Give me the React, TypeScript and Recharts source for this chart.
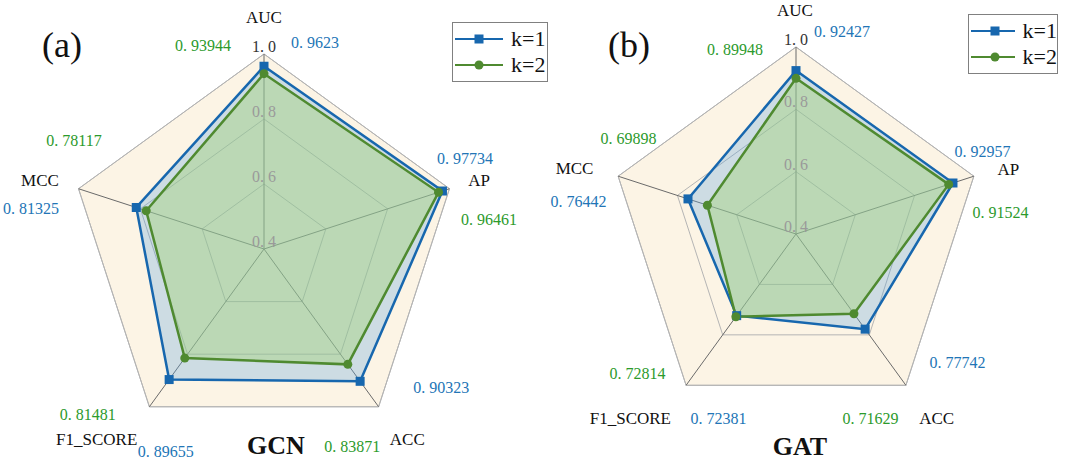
import {
  RadarChart,
  Radar,
  PolarGrid,
  PolarAngleAxis,
  PolarRadiusAxis,
  Legend,
} from "recharts";

const metrics = ["AUC", "AP", "ACC", "F1_SCORE", "MCC"];
const seriesNames = ["k=1", "k=2"];

const gcnK1 = [0.9623, 0.97734, 0.90323, 0.89655, 0.81325];
const gcnK2 = [0.93944, 0.96461, 0.83871, 0.81481, 0.78117];
const gatK1 = [0.92427, 0.92957, 0.77742, 0.72381, 0.76442];
const gatK2 = [0.89948, 0.91524, 0.71629, 0.72814, 0.69898];

const radiusDomain = [0.4, 1.0];
const radiusTicks = [0.4, 0.6, 0.8, 1.0];

const BLUE = "#1767ae";
const GREEN = "#4f8a30";
const BLUE_TEXT = "#2275b6";
const GREEN_TEXT = "#2c9a2c";
const SERIF = "'Liberation Serif', 'Times New Roman', serif";

type Offsets = Record<string, { name: number[]; k1: number[]; k2: number[] }>;

// label offsets from each axis vertex (text centres)
const gcnOffsets: Offsets = {
  AUC: { name: [0, -29], k1: [51, -4], k2: [-61, -1] },
  AP: { name: [22, -6], k1: [8, -28], k2: [32, 33] },
  ACC: { name: [24, 26], k1: [58, -26], k2: [-31, 33] },
  F1_SCORE: { name: [-48, 26], k1: [21, 38], k2: [-57, 1] },
  MCC: { name: [-31, -6], k1: [-40, 22], k2: [3, -46] },
};

const gatOffsets: Offsets = {
  AUC: { name: [-1, -29], k1: [46, -8], k2: [-61, 10] },
  AP: { name: [27, -4], k1: [1, -23], k2: [19, 38] },
  ACC: { name: [26, 27], k1: [47, -30], k2: [-40, 26] },
  F1_SCORE: { name: [-51, 27], k1: [37, 26], k2: [-44, -19] },
  MCC: { name: [-36, -5], k1: [-32, 27], k2: [18, -36] },
};

function buildRows(k1: number[], k2: number[]) {
  return metrics.map((m, i) => ({ metric: m, k1: k1[i], k2: k2[i] }));
}

// linear radius scale pinned to [lo, hi] (the axis domain prop gets widened to 0 otherwise)
function pinnedScale(lo: number, hi: number): any {
  let range = [0, 1];
  const s: any = (v: number) =>
    range[0] + ((v - lo) / (hi - lo)) * (range[1] - range[0]);
  s.domain = (d?: any) => (d === undefined ? [lo, hi] : s);
  s.range = (r?: any) => {
    if (r === undefined) return range;
    range = r;
    return s;
  };
  s.copy = () => pinnedScale(lo, hi).range(range);
  s.ticks = () => radiusTicks;
  s.invert = (px: number) =>
    lo + ((px - range[0]) / (range[1] - range[0])) * (hi - lo);
  return s;
}

// number with the wide gap after the decimal point
function NumText({ x, y, text, color, size }: any) {
  const [a, b] = text.split(".");
  return (
    <text
      x={x}
      y={y}
      fill={color}
      fontSize={size}
      fontFamily={SERIF}
      textAnchor="middle"
      dominantBaseline="central"
    >
      <tspan>{a}.</tspan>
      <tspan dx={4}>{b}</tspan>
    </text>
  );
}

const squareDot = (p: any) => (
  <rect
    key={`sq-${p.index}`}
    x={p.cx - 4.5}
    y={p.cy - 4.5}
    width={9}
    height={9}
    fill={BLUE}
  />
);

const roundDot = (p: any) => (
  <circle key={`ci-${p.index}`} cx={p.cx} cy={p.cy} r={4.5} fill={GREEN} />
);

function LegendBox({ payload, width }: any) {
  return (
    <div
      style={{
        width,
        boxSizing: "border-box",
        border: "1px solid #808080",
        background: "#fff",
        padding: "3px 0 3px 2px",
        fontFamily: SERIF,
        fontSize: 22,
        lineHeight: "26px",
        color: "#111",
      }}
    >
      {(payload || []).map((e: any, i: number) => (
        <div key={e.value} style={{ display: "flex", alignItems: "center" }}>
          <svg width={48} height={14}>
            <line
              x1={0}
              y1={7}
              x2={48}
              y2={7}
              stroke={i === 0 ? BLUE : GREEN}
              strokeWidth={2}
            />
            {i === 0 ? (
              <rect x={19.5} y={2.5} width={9} height={9} fill={BLUE} />
            ) : (
              <circle cx={24} cy={7} r={4.5} fill={GREEN} />
            )}
          </svg>
          <span style={{ marginLeft: 8, fontFamily: SERIF }}>{e.value}</span>
        </div>
      ))}
    </div>
  );
}

function RadarPanel({
  k1,
  k2,
  offsets,
  width,
  cx,
  cy,
  radius,
  legendLeft,
  legendTop,
  legendWidth,
}: any) {
  const rows = buildRows(k1, k2);
  const [lo, hi] = radiusDomain;

  const angleTick = (p: any) => {
    const name = p.payload.value;
    const row = rows.find((r) => r.metric === name)!;
    const o = offsets[name];
    return (
      <g key={`t-${name}`}>
        <text
          x={p.x + o.name[0]}
          y={p.y + o.name[1]}
          fontSize={17}
          fontFamily={SERIF}
          fill="#111"
          textAnchor="middle"
          dominantBaseline="central"
        >
          {name}
        </text>
        <NumText
          x={p.x + o.k1[0]}
          y={p.y + o.k1[1]}
          text={String(row.k1)}
          color={BLUE_TEXT}
          size={16}
        />
        <NumText
          x={p.x + o.k2[0]}
          y={p.y + o.k2[1]}
          text={String(row.k2)}
          color={GREEN_TEXT}
          size={16}
        />
      </g>
    );
  };

  const radiusTick = (p: any) => (
    <NumText
      key={`r-${p.payload.value}`}
      x={p.x}
      y={p.y - 8}
      text={Number(p.payload.value).toFixed(1)}
      color={p.payload.value >= 1 ? "#333" : "#9a9a9a"}
      size={16}
    />
  );

  return (
    <RadarChart
      width={width}
      height={460}
      data={rows}
      cx={cx}
      cy={cy}
      outerRadius={radius}
      margin={{ top: 0, right: 0, bottom: 0, left: 0 }}
    >
      <PolarGrid
        gridType="polygon"
        radialLines={false}
        fill="#fcf4e5"
        stroke="#b4b4b4"
      />
      <PolarGrid polarRadius={[]} stroke="#6a6a6a" />
      <PolarAngleAxis
        dataKey="metric"
        tick={angleTick}
        tickLine={false}
        axisLine={false}
        tickSize={0}
      />
      <PolarRadiusAxis
        angle={90}
        type="number"
        domain={radiusDomain}
        scale={pinnedScale(lo, hi)}
        ticks={radiusTicks as any}
        tick={radiusTick}
        axisLine={false}
        tickLine={false}
      />
      <Radar
        name={seriesNames[0]}
        dataKey="k1"
        stroke={BLUE}
        strokeWidth={2.5}
        fill="#5fa4df"
        fillOpacity={0.3}
        dot={squareDot}
        isAnimationActive={false}
      />
      <Radar
        name={seriesNames[1]}
        dataKey="k2"
        stroke={GREEN}
        strokeWidth={2.5}
        fill="#a7d37c"
        fillOpacity={0.45}
        dot={roundDot}
        isAnimationActive={false}
      />
      <Legend
        layout="vertical"
        align="left"
        verticalAlign="top"
        wrapperStyle={{ left: legendLeft, top: legendTop, width: legendWidth }}
        content={(props: any) => <LegendBox {...props} width={legendWidth} />}
      />
    </RadarChart>
  );
}

const labelStyle = (x: number, y: number, size: number, bold = false) =>
  ({
    position: "absolute",
    left: x,
    top: y,
    transform: "translate(-50%, -50%)",
    fontFamily: SERIF,
    fontSize: size,
    fontWeight: bold ? 700 : 400,
    lineHeight: 1,
    color: "#111",
    whiteSpace: "nowrap",
  }) as const;

export default function App() {
  return (
    <div
      style={{
        position: "absolute",
        left: 0,
        top: 0,
        width: 1070,
        height: 460,
        background: "#fff",
        overflow: "hidden",
      }}
    >
      <div style={{ position: "absolute", left: 0, top: 0 }}>
        <RadarPanel
          k1={gcnK1}
          k2={gcnK2}
          offsets={gcnOffsets}
          width={560}
          cx={264}
          cy={249}
          radius={195}
          legendLeft={452}
          legendTop={22}
          legendWidth={96}
        />
      </div>
      <div style={{ position: "absolute", left: 535, top: 0 }}>
        <RadarPanel
          k1={gatK1}
          k2={gatK2}
          offsets={gatOffsets}
          width={535}
          cx={261}
          cy={234}
          radius={187}
          legendLeft={433}
          legendTop={14}
          legendWidth={90}
        />
      </div>
      <div style={labelStyle(62, 45, 36)}>(a)</div>
      <div style={labelStyle(629, 45, 36)}>(b)</div>
      <div style={labelStyle(276, 446, 26, true)}>GCN</div>
      <div style={labelStyle(800, 447, 26, true)}>GAT</div>
    </div>
  );
}
